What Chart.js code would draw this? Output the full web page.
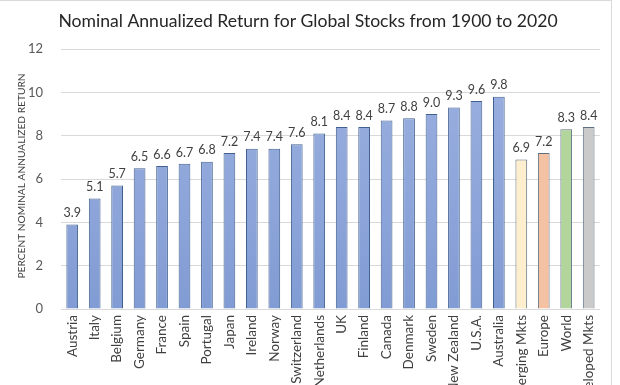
<!DOCTYPE html>
<html>
<head>
<meta charset="utf-8">
<script src="https://cdn.jsdelivr.net/npm/chart.js@4.4.1/dist/chart.umd.min.js"></script>
<style>
  html, body { margin: 0; padding: 0; background: #fff; overflow: hidden; }
  .frame {
    width: 611px; height: 384px;
    border-top: 1px solid #d9d9d9;
    border-right: 1px solid #d9d9d9;
    overflow: hidden;
  }
</style>
</head>
<body>
<div class="frame">
  <canvas id="myChart" width="611" height="384"></canvas>
</div>

<script>
    // chart data
    var titleText = 'Nominal Annualized Return for Global Stocks from 1900 to 2020';
    var yTitle = 'PERCENT NOMINAL ANNUALIZED RETURN';
    var markets = ['Austria', 'Italy', 'Belgium', 'Germany', 'France', 'Spain', 'Portugal', 'Japan',
        'Ireland', 'Norway', 'Switzerland', 'Netherlands', 'UK', 'Finland', 'Canada', 'Denmark',
        'Sweden', 'New Zealand', 'U.S.A.', 'Australia', 'Emerging Mkts', 'Europe', 'World', 'Developed Mkts'];
    var returns = [3.9, 5.1, 5.7, 6.5, 6.6, 6.7, 6.8, 7.2, 7.4, 7.4, 7.6, 8.1, 8.4, 8.4, 8.7, 8.8,
        9.0, 9.3, 9.6, 9.8, 6.9, 7.2, 8.3, 8.4];
    var yTicks = [0, 2, 4, 6, 8, 10, 12];

    // colours: countries blue, aggregates each their own
    var specialFill = { 'Emerging Mkts': '#fdefcd', 'Europe': '#f5c1a3', 'World': '#b1d59a', 'Developed Mkts': '#cacaca' };

    function barFill(context) {
        var label = markets[context.dataIndex];
        if (specialFill[label]) return specialFill[label];
        var area = context.chart.chartArea;
        if (!area) return '#8fa8dc';
        var g = context.chart.ctx.createLinearGradient(0, area.top, 0, area.bottom);
        g.addColorStop(0, '#9db1e1');
        g.addColorStop(1, '#819cd4');
        return g;
    }
    function barBorder(context) {
        return specialFill[markets[context.dataIndex]] ? '#5e6f80' : '#41608f';
    }

    // value labels above bars
    var valueLabels = {
        id: 'valueLabels',
        afterDatasetsDraw: function (chart) {
            var ctx = chart.ctx;
            var meta = chart.getDatasetMeta(0);
            ctx.save();
            ctx.font = '12.5px Lato';
            ctx.fillStyle = '#404040';
            ctx.textAlign = 'center';
            ctx.textBaseline = 'bottom';
            meta.data.forEach(function (bar, i) {
                ctx.fillText(returns[i].toFixed(1), bar.x, bar.y - 5);
            });
            ctx.restore();
        }
    };

    // title and y axis caption
    var chartTitle = {
        id: 'chartTitle',
        afterDraw: function (chart) {
            var ctx = chart.ctx;
            var area = chart.chartArea;
            ctx.save();
            ctx.font = '17.6px Lato';
            ctx.fillStyle = '#262626';
            ctx.textAlign = 'center';
            ctx.textBaseline = 'alphabetic';
            ctx.fillText(titleText, 308, 26);

            // rotated axis caption
            ctx.translate(22, (area.top + area.bottom) / 2 - 3);
            ctx.rotate(-Math.PI / 2);
            ctx.font = '10.2px Lato';
            ctx.fillStyle = '#404040';
            ctx.textBaseline = 'middle';
            ctx.fillText(yTitle, 0, 0);
            ctx.restore();
        }
    };

    var ctx = document.getElementById('myChart').getContext('2d');
    var myChart = new Chart(ctx, {
        type: 'bar',
        data: {
            labels: markets,
            datasets: [{
                data: returns,
                backgroundColor: barFill,
                borderColor: barBorder,
                borderWidth: 1,
                barPercentage: 0.58,
                categoryPercentage: 0.9
            }]
        },
        options: {
            responsive: false,
            animation: false,
            layout: { padding: { top: 48, right: 6, left: 0, bottom: 0 } },
            plugins: {
                legend: { display: false },
                tooltip: { enabled: false }
            },
            scales: {
                x: {
                    grid: { display: false, drawTicks: false },
                    border: { color: '#d9d9d9' },
                    ticks: {
                        autoSkip: false,
                        maxRotation: 90,
                        minRotation: 90,
                        padding: 6,
                        color: '#404040',
                        font: { family: 'Lato', size: 13.5 }
                    },
                    afterFit: function (scale) { scale.height = 76; }
                },
                y: {
                    min: 0,
                    max: 12,
                    afterBuildTicks: function (scale) {
                        scale.ticks = yTicks.map(function (v) { return { value: v }; });
                    },
                    grid: { color: '#d9d9d9', drawTicks: false },
                    border: { display: false },
                    ticks: {
                        padding: 18,
                        color: '#595959',
                        font: { family: 'Lato', size: 13 }
                    },
                    afterFit: function (scale) { scale.width = 61; }
                }
            }
        },
        plugins: [valueLabels, chartTitle]
    });
</script>
</body>
</html>
